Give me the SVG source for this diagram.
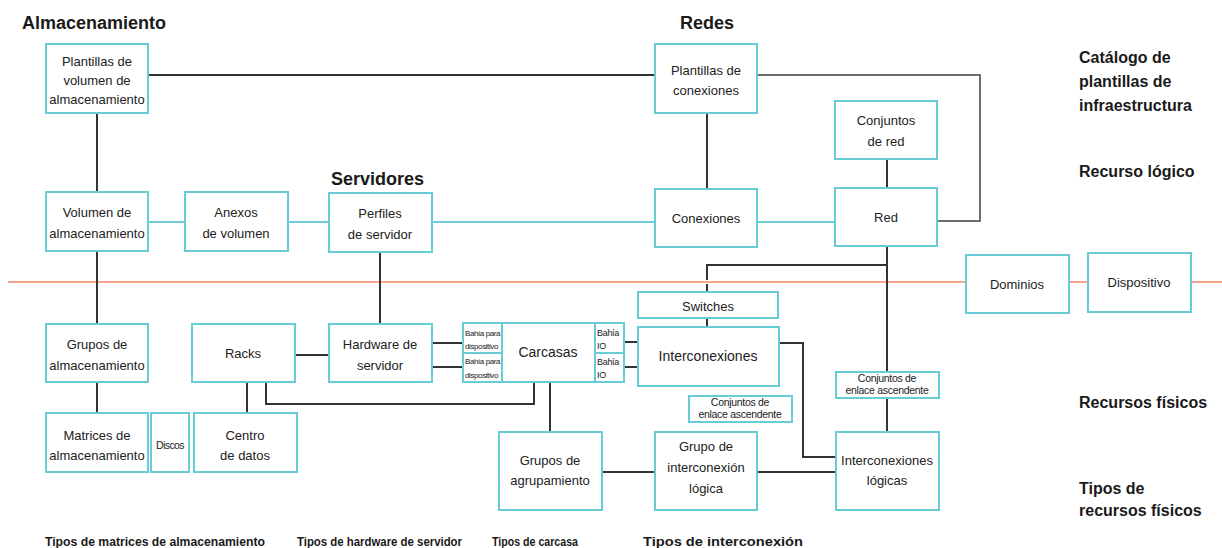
<svg xmlns="http://www.w3.org/2000/svg" width="1222" height="548" viewBox="0 0 1222 548">
  <style>
    .box { fill: #ffffff; stroke: #68ccd7; stroke-width: 2; }
    .ln { fill: none; stroke: #333333; stroke-width: 2; }
    .lg { fill: none; stroke: #6e6e6e; stroke-width: 2; }
    .lc { fill: none; stroke: #6fcdd8; stroke-width: 2; }
    .div { fill: none; stroke: #f6a58b; stroke-width: 2; }
    .t { font-family: "Liberation Sans", Arial, sans-serif; font-size: 13px; fill: #222222; text-anchor: middle; }
    .tl { font-family: "Liberation Sans", Arial, sans-serif; font-size: 14px; fill: #222222; text-anchor: middle; }
    .ts { font-family: "Liberation Sans", Arial, sans-serif; font-size: 10.5px; fill: #222222; text-anchor: middle; letter-spacing: -0.3px; }
    .tx { font-family: "Liberation Sans", Arial, sans-serif; font-size: 8px; fill: #222222; letter-spacing: -0.4px; }
    .tio { font-family: "Liberation Sans", Arial, sans-serif; font-size: 9px; fill: #222222; letter-spacing: -0.3px; }
    .h { font-family: "Liberation Sans", Arial, sans-serif; font-size: 18px; font-weight: bold; fill: #1a1a1a; }
    .r { font-family: "Liberation Sans", Arial, sans-serif; font-size: 16px; font-weight: bold; fill: #1a1a1a; }
    .b { font-family: "Liberation Sans", Arial, sans-serif; font-size: 12px; font-weight: bold; fill: #1a1a1a; }
    .bl { font-family: "Liberation Sans", Arial, sans-serif; font-size: 13.5px; font-weight: bold; fill: #1a1a1a; }
  </style>

  <!-- divider between logical and physical resources -->
  <line class="div" x1="8" y1="282" x2="1222" y2="282"/>

  <!-- connectors -->
  <g id="connectors">
    <!-- template links -->
    <polyline class="ln" points="148,75 655,75"/>
    <polyline class="lg" points="757,75 980,75 980,221 937,221"/>
    <line class="ln" x1="707" y1="113" x2="707" y2="189"/>
    <line class="ln" x1="887" y1="159" x2="887" y2="188"/>
    <!-- logical chain -->
    <line class="lc" x1="148" y1="222" x2="185" y2="222"/>
    <line class="lc" x1="288" y1="222" x2="329" y2="222"/>
    <line class="lc" x1="432" y1="222" x2="655" y2="222"/>
    <line class="lc" x1="757" y1="222" x2="835" y2="222"/>
    <!-- storage column -->
    <line class="ln" x1="97" y1="113" x2="97" y2="192"/>
    <line class="ln" x1="97" y1="251" x2="97" y2="324"/>
    <line class="ln" x1="97" y1="382" x2="97" y2="413"/>
    <!-- servers -->
    <line class="ln" x1="380" y1="252" x2="380" y2="324"/>
    <line class="ln" x1="295" y1="355" x2="329" y2="355"/>
    <line class="ln" x1="247" y1="382" x2="247" y2="413"/>
    <polyline class="ln" points="266,382 266,404 534,404 534,382"/>
    <line class="ln" x1="432" y1="343" x2="463" y2="343"/>
    <line class="ln" x1="432" y1="367" x2="463" y2="367"/>
    <line class="ln" x1="624" y1="342" x2="637" y2="342"/>
    <line class="ln" x1="624" y1="367" x2="637" y2="367"/>
    <line class="ln" x1="550" y1="382" x2="550" y2="432"/>
    <!-- networks -->
    <line class="ln" x1="887" y1="246" x2="887" y2="372"/>
    <line class="ln" x1="887" y1="398" x2="887" y2="432"/>
    <polyline class="ln" points="887,265 707,265 707,280"/>
    <line class="ln" x1="707" y1="284" x2="707" y2="292"/>
    <line class="ln" x1="707" y1="318" x2="707" y2="327"/>
    <polyline class="ln" points="779,343 803,343 803,457 836,457"/>
    <line class="ln" x1="602" y1="472" x2="655" y2="472"/>
    <line class="ln" x1="757" y1="472" x2="836" y2="472"/>
  </g>

  <!-- section headings -->
  <text class="h" x="22" y="29">Almacenamiento</text>
  <text class="h" x="331" y="185">Servidores</text>
  <text class="h" x="680" y="29">Redes</text>

  <!-- layer labels -->
  <text class="r" x="1079" y="63">Catálogo de</text>
  <text class="r" x="1079" y="87">plantillas de</text>
  <text class="r" x="1079" y="111">infraestructura</text>
  <text class="r" x="1079" y="177">Recurso lógico</text>
  <text class="r" x="1079" y="408">Recursos físicos</text>
  <text class="r" x="1079" y="494">Tipos de</text>
  <text class="r" x="1079" y="516">recursos físicos</text>

  <!-- type labels -->
  <text class="b" x="45" y="546" textLength="220" lengthAdjust="spacingAndGlyphs">Tipos de matrices de almacenamiento</text>
  <text class="b" x="297" y="546" textLength="165" lengthAdjust="spacingAndGlyphs">Tipos de hardware de servidor</text>
  <text class="bl" x="492" y="546" textLength="86" lengthAdjust="spacingAndGlyphs">Tipos de carcasa</text>
  <text class="bl" x="643" y="546" textLength="160" lengthAdjust="spacingAndGlyphs">Tipos de interconexión</text>

  <!-- template nodes -->
  <g id="plantillas-volumen">
    <rect class="box" x="46" y="44" width="102" height="69"/>
    <text class="t" x="97" y="66">Plantillas de</text>
    <text class="t" x="97" y="85">volumen de</text>
    <text class="t" x="97" y="104">almacenamiento</text>
  </g>
  <g id="plantillas-conexiones">
    <rect class="box" x="655" y="44" width="102" height="69"/>
    <text class="t" x="706" y="75">Plantillas de</text>
    <text class="t" x="706" y="95">conexiones</text>
  </g>
  <g id="conjuntos-red">
    <rect class="box" x="835" y="101" width="102" height="58"/>
    <text class="t" x="886" y="125">Conjuntos</text>
    <text class="t" x="886" y="146">de red</text>
  </g>

  <!-- logical resource nodes -->
  <g id="volumen">
    <rect class="box" x="46" y="192" width="102" height="59"/>
    <text class="t" x="97" y="217">Volumen de</text>
    <text class="t" x="97" y="238">almacenamiento</text>
  </g>
  <g id="anexos">
    <rect class="box" x="185" y="192" width="103" height="59"/>
    <text class="t" x="236" y="217">Anexos</text>
    <text class="t" x="236" y="238">de volumen</text>
  </g>
  <g id="perfiles">
    <rect class="box" x="329" y="193" width="103" height="59"/>
    <text class="t" x="380" y="218">Perfiles</text>
    <text class="t" x="380" y="239">de servidor</text>
  </g>
  <g id="conexiones">
    <rect class="box" x="655" y="189" width="102" height="58"/>
    <text class="t" x="706" y="223">Conexiones</text>
  </g>
  <g id="red">
    <rect class="box" x="835" y="188" width="102" height="58"/>
    <text class="t" x="886" y="222">Red</text>
  </g>
  <g id="dominios">
    <rect class="box" x="966" y="255" width="103" height="58"/>
    <text class="t" x="1017" y="289">Dominios</text>
  </g>
  <g id="dispositivo">
    <rect class="box" x="1088" y="253" width="103" height="59"/>
    <text class="t" x="1139" y="287">Dispositivo</text>
  </g>

  <!-- physical resource nodes -->
  <g id="grupos-almacenamiento">
    <rect class="box" x="46" y="324" width="102" height="58"/>
    <text class="t" x="97" y="349">Grupos de</text>
    <text class="t" x="97" y="370">almacenamiento</text>
  </g>
  <g id="racks">
    <rect class="box" x="192" y="324" width="103" height="58"/>
    <text class="t" x="243" y="358">Racks</text>
  </g>
  <g id="hardware">
    <rect class="box" x="329" y="324" width="103" height="58"/>
    <text class="t" x="380" y="349">Hardware de</text>
    <text class="t" x="380" y="370">servidor</text>
  </g>
  <g id="carcasas">
    <rect class="box" x="502" y="323" width="93" height="59"/>
    <text class="tl" x="548" y="357">Carcasas</text>
  </g>
  <g id="bahia-dispositivo-1">
    <rect class="box" x="463" y="323" width="39" height="30"/>
    <text class="tx" x="465" y="336">Bahía para</text>
    <text class="tx" x="465" y="349">dispositivo</text>
  </g>
  <g id="bahia-dispositivo-2">
    <rect class="box" x="463" y="353" width="39" height="29"/>
    <text class="tx" x="465" y="364">Bahía para</text>
    <text class="tx" x="465" y="378">dispositivo</text>
  </g>
  <g id="bahia-io-1">
    <rect class="box" x="595" y="323" width="29" height="30"/>
    <text class="tio" x="597" y="336">Bahía</text>
    <text class="tio" x="597" y="349">IO</text>
  </g>
  <g id="bahia-io-2">
    <rect class="box" x="595" y="353" width="29" height="29"/>
    <text class="tio" x="597" y="365">Bahía</text>
    <text class="tio" x="597" y="378">IO</text>
  </g>
  <g id="switches">
    <rect class="box" x="638" y="292" width="140" height="26"/>
    <text class="t" x="708" y="311">Switches</text>
  </g>
  <g id="interconexiones">
    <rect class="box" x="638" y="327" width="141" height="59"/>
    <text class="tl" x="708" y="361">Interconexiones</text>
  </g>
  <g id="conjuntos-enlace-1">
    <rect class="box" x="689" y="396" width="103" height="26"/>
    <text class="ts" x="740" y="406">Conjuntos de</text>
    <text class="ts" x="740" y="418">enlace ascendente</text>
  </g>
  <g id="conjuntos-enlace-2">
    <rect class="box" x="836" y="372" width="103" height="26"/>
    <text class="ts" x="887" y="382">Conjuntos de</text>
    <text class="ts" x="887" y="394">enlace ascendente</text>
  </g>

  <!-- physical resource type nodes -->
  <g id="matrices">
    <rect class="box" x="46" y="413" width="102" height="59"/>
    <text class="t" x="97" y="440">Matrices de</text>
    <text class="t" x="97" y="460">almacenamiento</text>
  </g>
  <g id="discos">
    <rect class="box" x="151" y="413" width="38" height="59"/>
    <text class="ts" x="170" y="449" style="letter-spacing:-0.6px">Discos</text>
  </g>
  <g id="centro-datos">
    <rect class="box" x="194" y="413" width="103" height="59"/>
    <text class="t" x="245" y="440">Centro</text>
    <text class="t" x="245" y="460">de datos</text>
  </g>
  <g id="grupos-agrupamiento">
    <rect class="box" x="499" y="432" width="103" height="78"/>
    <text class="t" x="550" y="465">Grupos de</text>
    <text class="t" x="550" y="485">agrupamiento</text>
  </g>
  <g id="grupo-interconexion">
    <rect class="box" x="655" y="432" width="102" height="78"/>
    <text class="t" x="706" y="451">Grupo de</text>
    <text class="t" x="706" y="472">interconexión</text>
    <text class="t" x="706" y="493">lógica</text>
  </g>
  <g id="interconexiones-logicas">
    <rect class="box" x="836" y="432" width="103" height="78"/>
    <text class="t" x="887" y="465">Interconexiones</text>
    <text class="t" x="887" y="485">lógicas</text>
  </g>
</svg>
